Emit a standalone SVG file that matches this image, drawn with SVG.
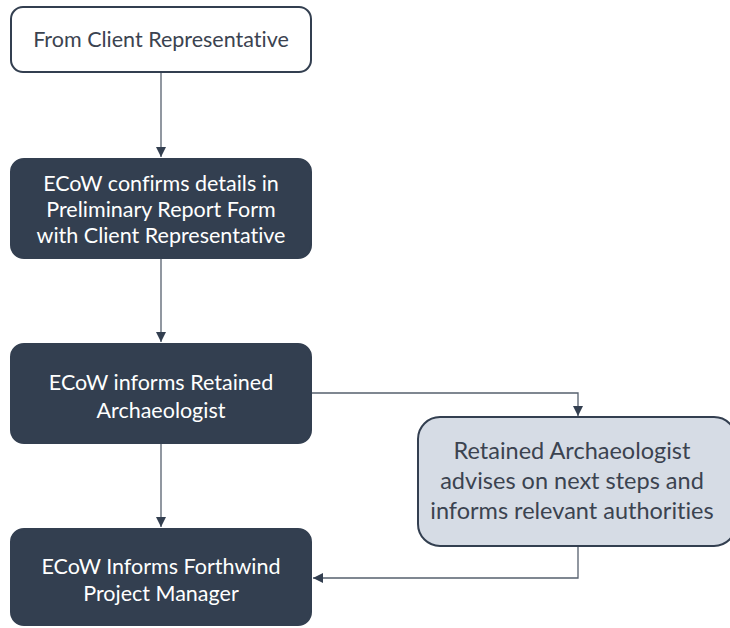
<svg xmlns="http://www.w3.org/2000/svg" width="730" height="628" viewBox="0 0 730 628">
<defs>
<style>
.t{font-family:Lato,"Open Sans","Liberation Sans",sans-serif;font-size:21.5px;text-anchor:middle;font-variant-ligatures:none;font-feature-settings:"liga" 0,"dlig" 0}
.big{font-size:23.5px}
.w{fill:#ffffff}
.d{fill:#3b4350}
.dark{fill:#333f50;stroke:#333f50;stroke-width:2}
.c{fill:none;stroke:#56606e;stroke-width:1.3}
</style>
<marker id="a" viewBox="0 0 10 10" refX="10" refY="5" markerWidth="10" markerHeight="10" markerUnits="userSpaceOnUse" orient="auto">
<path d="M0,0 L10,5 L0,10 z" fill="#333f50"/>
</marker>
</defs>
<rect width="730" height="628" fill="#ffffff"/>
<g id="connectors">
<path class="c" d="M161,72 V157" marker-end="url(#a)"/>
<path class="c" d="M161,258 V342" marker-end="url(#a)"/>
<path class="c" d="M161,443 V527" marker-end="url(#a)"/>
<path class="c" d="M312,393 H578 V416" marker-end="url(#a)"/>
<path class="c" d="M578,547 V578 H313" marker-end="url(#a)"/>
</g>
<g id="n1">
<rect x="11" y="7" width="300" height="65" rx="12" fill="#ffffff" stroke="#333f50" stroke-width="2"/>
<text class="t d" x="161" y="47">From Client Representative</text>
</g>
<g id="n2">
<rect class="dark" x="11" y="159" width="300" height="99" rx="13"/>
<text class="t w" x="161" y="190.5">ECoW confirms details in</text>
<text class="t w" x="161" y="216.5">Preliminary Report Form</text>
<text class="t w" x="161" y="242.5">with Client Representative</text>
</g>
<g id="n3">
<rect class="dark" x="11" y="344" width="300" height="99" rx="13"/>
<text class="t w" x="161" y="389.5">ECoW informs Retained</text>
<text class="t w" x="161" y="417.5">Archaeologist</text>
</g>
<g id="n4">
<rect x="418" y="417" width="318" height="129" rx="22" fill="#d6dce5" stroke="#333f50" stroke-width="2"/>
<text class="t d big" x="572" y="459">Retained Archaeologist</text>
<text class="t d big" x="572" y="489">advises on next steps and</text>
<text class="t d big" x="572" y="519">informs relevant authorities</text>
</g>
<g id="n5">
<rect class="dark" x="11" y="529" width="300" height="96" rx="13"/>
<text class="t w" x="161" y="573.5">ECoW Informs Forthwind</text>
<text class="t w" x="161" y="601">Project Manager</text>
</g>
</svg>
